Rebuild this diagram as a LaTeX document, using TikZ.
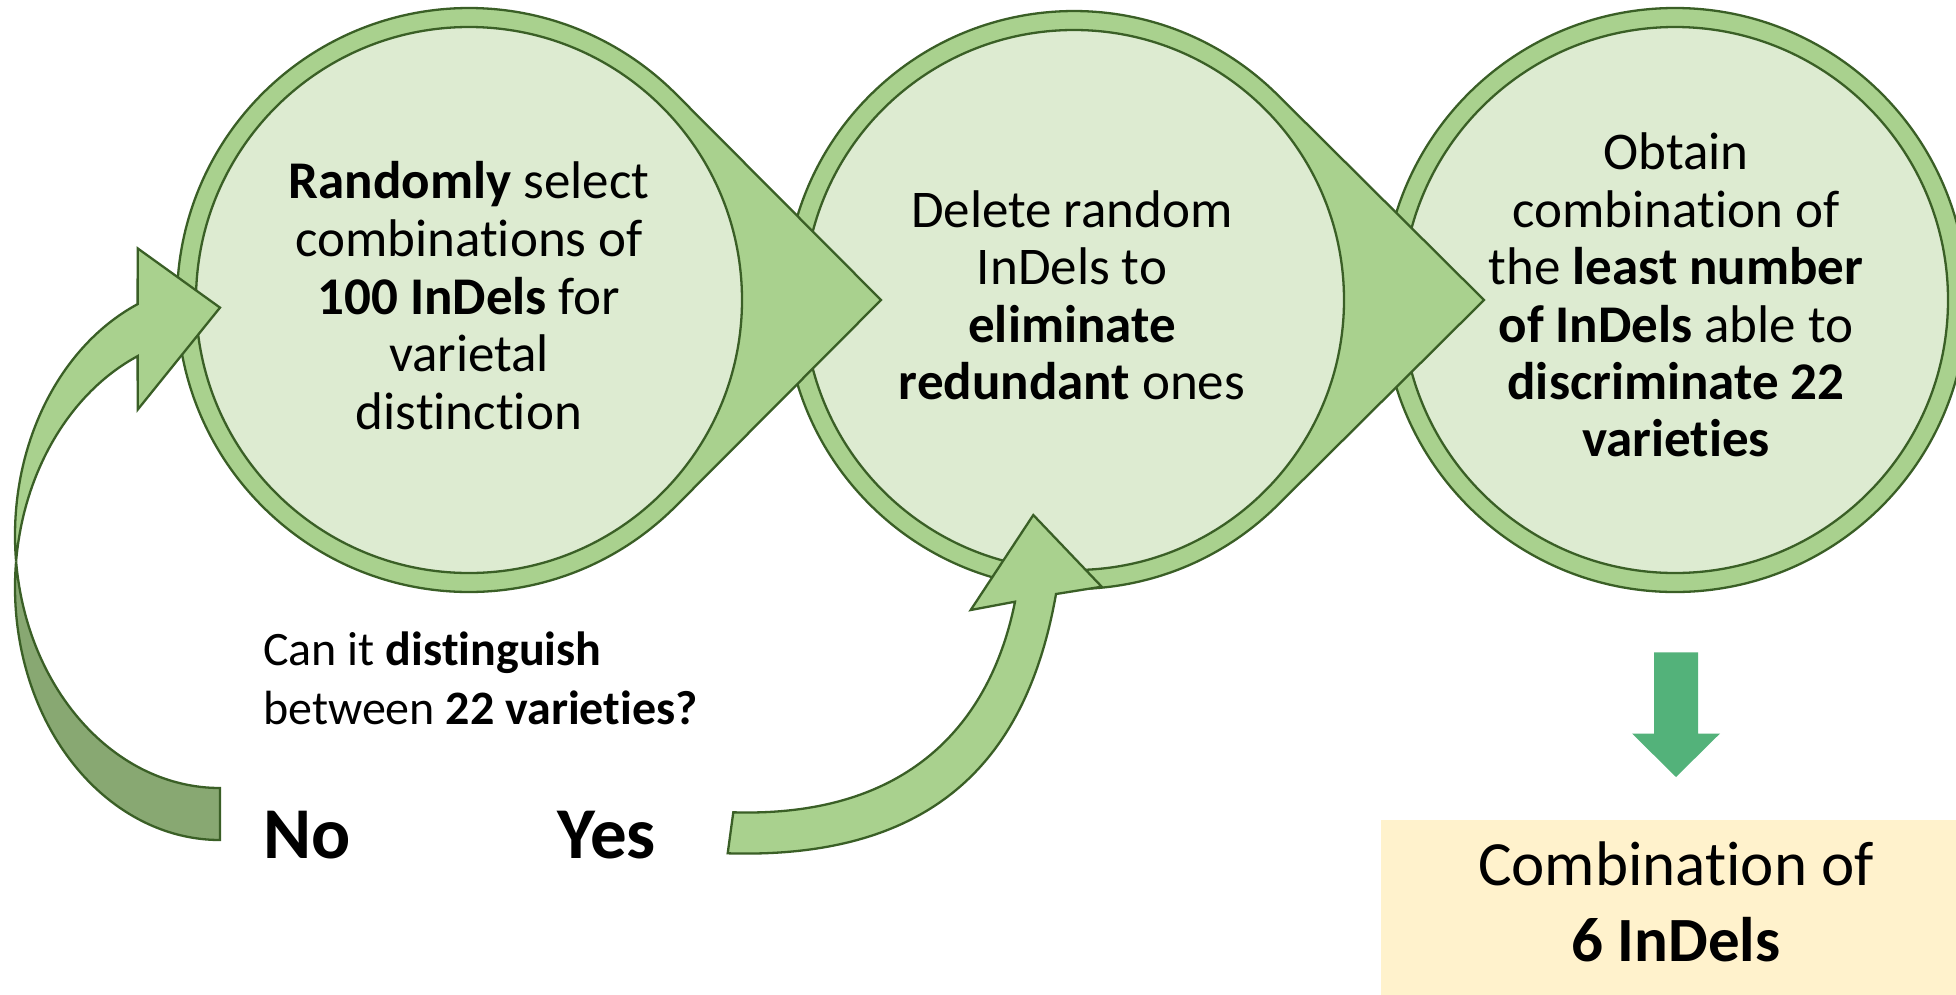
\documentclass[tikz,border=0pt]{standalone}
\usepackage{fontspec}
\setmainfont[Ligatures=NoCommon]{Carlito}
\usetikzlibrary{calc}
\definecolor{ring}{HTML}{A9D18E}
\definecolor{innerfill}{HTML}{DDEBD1}
\definecolor{edgegreen}{HTML}{3A5F26}
\definecolor{darkband}{HTML}{88A872}
\definecolor{downgreen}{HTML}{53B27A}
\definecolor{boxfill}{HTML}{FFF2CC}
\begin{document}
\begin{tikzpicture}[x=1pt,y=-1pt,
  shapeline/.style={draw=edgegreen,line width=2.3pt,line join=miter},
  ringshape/.style={shapeline,fill=ring},
  innershape/.style={shapeline,fill=innerfill},
  circtext/.style={anchor=base,inner sep=0pt,font=\fontsize{53}{58}\selectfont},
  qtext/.style={anchor=base west,inner sep=0pt,font=\fontsize{48}{58}\selectfont},
  answer/.style={anchor=base west,inner sep=0pt,font=\fontsize{73}{80}\selectfont\bfseries},
  boxtext/.style={anchor=base,inner sep=0pt,font=\fontsize{63}{76}\selectfont}]
\useasboundingbox (0,0) rectangle (1956,994);
\fill[white] (0,0) rectangle (1956,994);
\clip (0,0) rectangle (1956,994);

% centres and tips
\coordinate (C1) at (469,300);  \coordinate (T1) at (881,300);
\coordinate (C2) at (1074,300); \coordinate (T2) at (1484,300);
\coordinate (C3) at (1675,300);

% circle 3
\draw[ringshape] (C3) circle[radius=292];
\draw[innershape] (C3) circle[radius=273];
% circle 2 (teardrop)
\draw[ringshape] (T2) -- ($(C2)+(45.2:289)$) arc[start angle=45.2,end angle=314.8,radius=289] -- cycle;
\draw[innershape] (C2) circle[radius=270];
% circle 1 (teardrop)
\draw[ringshape] (T1) -- ($(C1)+(44.87:292)$) arc[start angle=44.87,end angle=315.13,radius=292] -- cycle;
\draw[innershape] (C1) circle[radius=273];

% "No" curved arrow
\coordinate (NE1) at (220,587.4);
\coordinate (NE2) at (220,535.4);
\draw[shapeline,fill=darkband] ($(NE1)+(185.9:205 and 252.6)$)
  arc[start angle=185.9,end angle=90,x radius=205,y radius=252.6]
  -- (220,788)
  arc[start angle=90,end angle=174.1,x radius=205,y radius=252.6] -- cycle;
\draw[shapeline,fill=ring] ($(NE1)+(185.9:205 and 252.6)$)
  arc[start angle=185.9,end angle=246.3,x radius=205,y radius=252.6]
  -- (137.7,409.6) -- (220,307.6) -- (137.7,248.4)
  -- ($(NE2)+(246.3:205 and 252.6)$)
  arc[start angle=246.3,end angle=174.1,x radius=205,y radius=252.6] -- cycle;

% "Yes" curved arrow
\draw[shapeline,fill=ring] (727.7,853.3) .. controls (944.6,859.8) and (1028.8,748.4) .. (1056,594)
  -- (1101.7,586.7) -- (1033.3,515) -- (970.7,610) -- (1015,601.7)
  .. controls (992.6,713.5) and (917.9,817.8) .. (733.3,812.3) -- cycle;

% down arrow
\fill[downgreen] (1654,652.4) -- (1698,652.4) -- (1698,733.5) -- (1720,733.5)
  -- (1676,777) -- (1632,733.5) -- (1654,733.5) -- cycle;

% result box
\fill[boxfill] (1381,819.6) rectangle (1960,1000);

% texts circle 1
\node[circtext] (a1) at (469,198) {\textbf{Randomly} select};
\node[circtext] (a2) at (469,256) {combinations of};
\node[circtext] (a3) at (469,314) {\textbf{100 InDels} for};
\node[circtext] (a4) at (469,371.7) {varietal};
\node[circtext] (a5) at (469,429) {distinction};
% texts circle 2
\node[circtext] (b1) at (1072,227.4) {Delete random};
\node[circtext] (b2) at (1072,284.7) {InDels to};
\node[circtext] (b3) at (1072,342) {\textbf{eliminate}};
\node[circtext] (b4) at (1072,399.4) {\textbf{redundant} ones};
% texts circle 3
\node[circtext] (c1) at (1676,169.2) {Obtain};
\node[circtext] (c2) at (1676,227.4) {combination of};
\node[circtext] (c3) at (1676,284.7) {the \textbf{least number}};
\node[circtext] (c4) at (1676,342) {\textbf{of InDels} able to};
\node[circtext] (c5) at (1676,399.4) {\textbf{discriminate 22}};
\node[circtext] (c6) at (1676,456.7) {\textbf{varieties}};
% question and answers
\node[qtext] (q1) at (263,665.6) {Can it \textbf{distinguish}};
\node[qtext] (q2) at (263,724) {between \textbf{22 varieties?}};
\node[answer] (no) at (263,858) {No};
\node[answer] (yes) at (557.7,858) {Yes};
% box text
\node[boxtext] (r1) at (1676,885) {Combination of};
\node[boxtext] (r2) at (1676,961.5) {\textbf{6 InDels}};
\end{tikzpicture}
\end{document}
